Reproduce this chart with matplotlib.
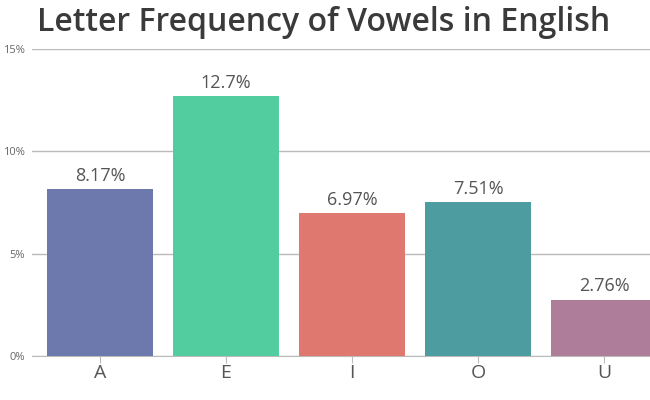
import matplotlib
matplotlib.use("Agg")
import matplotlib.pyplot as plt

letters = ["A", "E", "I", "O", "U"]
freq = [8.17, 12.7, 6.97, 7.51, 2.76]
labels = ["8.17%", "12.7%", "6.97%", "7.51%", "2.76%"]
colors = ["#6D78AD", "#51CDA0", "#DF7970", "#4C9CA0", "#AE7D99"]
yticks = [0, 5, 10, 15]

plt.rcParams['font.family'] = ['Open Sans', 'DejaVu Sans']

fig = plt.figure(figsize=(6.5, 4), dpi=100)
ax = fig.add_axes([0.049, 0.11, 0.951, 0.7675])

x = list(range(len(letters)))
bars = ax.bar(x, freq, width=0.835, color=colors, zorder=3)
for b, lab in zip(bars, labels):
    ax.text(b.get_x() + b.get_width() / 2, b.get_height() + 0.2, lab,
            ha="center", va="bottom", fontsize=13, color="#555555")

ax.set_xlim(-0.54, 4.365)
ax.set_ylim(0, 15)
ax.set_yticks(yticks)
ax.set_yticklabels([f"{t}%" for t in yticks])
ax.set_xticks(x)
ax.set_xticklabels(letters)
ax.grid(axis="y", color="#BBBBBB", linewidth=1, zorder=0)
for s in ["top", "right", "left"]:
    ax.spines[s].set_visible(False)
ax.spines["bottom"].set_color("#BBBBBB")
ax.tick_params(axis="y", length=0, labelsize=8, labelcolor="#666666", pad=5)
ax.tick_params(axis="x", length=5, color="#BBBBBB", labelsize=14,
               labelcolor="#555555", pad=1)

fig.text(0.057, 0.943, "Letter Frequency of Vowels in English", fontsize=23,
         fontweight="semibold", color="#3A3A3A", ha="left", va="center")

fig.savefig("out.png", dpi=100)
